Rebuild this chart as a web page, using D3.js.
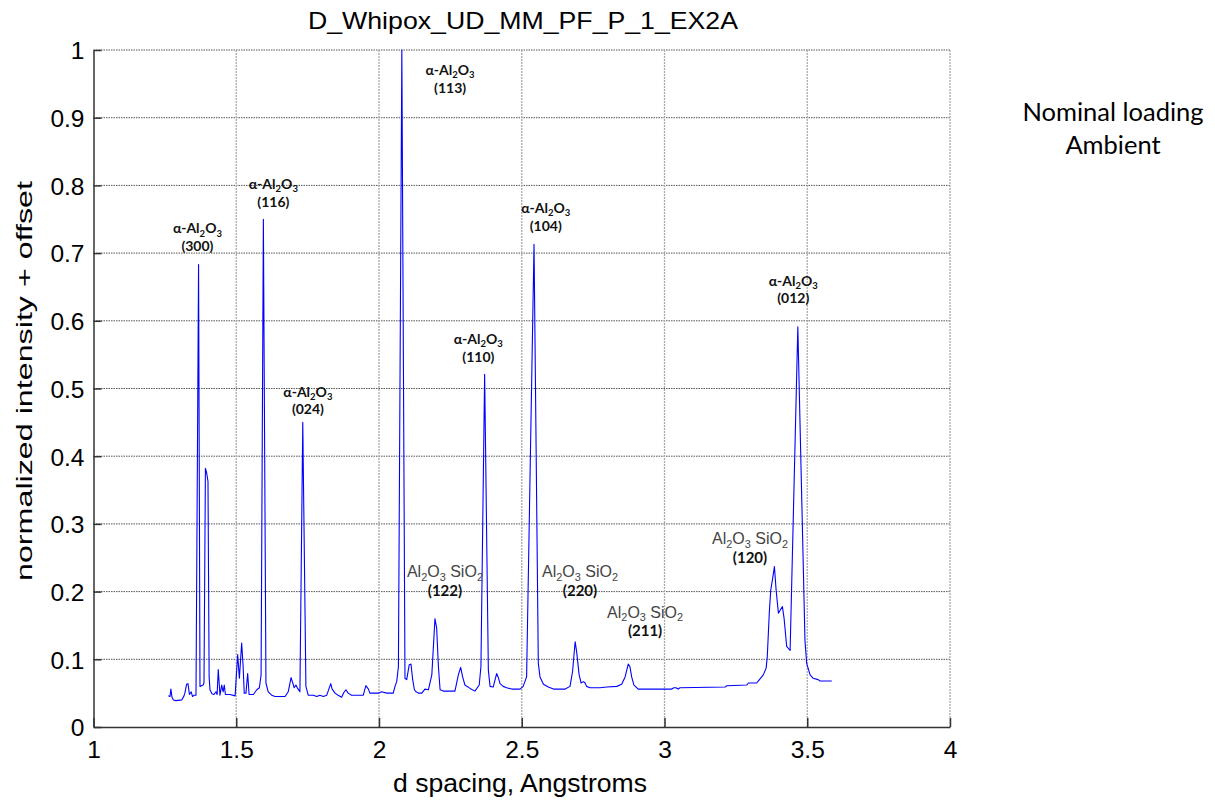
<!DOCTYPE html>
<html>
<head>
<meta charset="utf-8">
<script src="https://cdn.jsdelivr.net/npm/d3@7"></script>
<style>
  html, body { margin: 0; padding: 0; background: #fff; }
  svg { display: block; }
</style>
</head>
<body>
<svg id="chart" width="1215" height="800"></svg>
<script>
// Diffraction pattern: d spacing (Å) and normalized intensity + offset
const dSpacing = [
  1.262, 1.268, 1.271, 1.275, 1.280, 1.289, 1.309, 1.317, 1.320, 1.326, 1.331, 1.336, 1.342, 1.347, 1.352, 1.359,
  1.368, 1.373, 1.384, 1.387, 1.392, 1.396, 1.401, 1.405, 1.408, 1.415, 1.422, 1.429, 1.433, 1.437, 1.443, 1.449,
  1.454, 1.458, 1.462, 1.478, 1.496, 1.505, 1.511, 1.519, 1.524, 1.528, 1.534, 1.540, 1.545, 1.560, 1.572, 1.581,
  1.587, 1.595, 1.604, 1.612, 1.624, 1.636, 1.671, 1.682, 1.692, 1.698, 1.703, 1.709, 1.715, 1.723, 1.733, 1.744,
  1.752, 1.770, 1.782, 1.793, 1.805, 1.817, 1.831, 1.836, 1.846, 1.857, 1.869, 1.877, 1.884, 1.892, 1.904, 1.945,
  1.954, 1.963, 1.968, 1.998, 2.009, 2.027, 2.050, 2.056, 2.062, 2.068, 2.080, 2.091, 2.097, 2.106, 2.112, 2.118,
  2.124, 2.130, 2.138, 2.150, 2.161, 2.173, 2.185, 2.196, 2.202, 2.208, 2.214, 2.225, 2.255, 2.266, 2.278, 2.286,
  2.293, 2.301, 2.319, 2.336, 2.351, 2.357, 2.370, 2.383, 2.389, 2.400, 2.406, 2.412, 2.418, 2.424, 2.435, 2.447,
  2.465, 2.494, 2.505, 2.517, 2.543, 2.558, 2.564, 2.576, 2.593, 2.611, 2.652, 2.669, 2.678, 2.687, 2.692, 2.701,
  2.708, 2.716, 2.722, 2.727, 2.739, 2.774, 2.798, 2.833, 2.850, 2.862, 2.873, 2.879, 2.885, 2.893, 2.908, 3.025,
  3.033, 3.040, 3.048, 3.054, 3.212, 3.218, 3.288, 3.294, 3.323, 3.329, 3.346, 3.356, 3.360, 3.367, 3.372, 3.379,
  3.385, 3.391, 3.399, 3.407, 3.413, 3.419, 3.428, 3.440, 3.467, 3.492, 3.498, 3.510, 3.521, 3.538, 3.545, 3.586
];
const intensity = [
  0.046, 0.045, 0.056, 0.044, 0.040, 0.039, 0.040, 0.046, 0.050, 0.063, 0.064, 0.048, 0.052, 0.045, 0.047, 0.047,
  0.683, 0.060, 0.062, 0.065, 0.382, 0.376, 0.363, 0.074, 0.055, 0.049, 0.048, 0.052, 0.048, 0.085, 0.047, 0.062,
  0.052, 0.062, 0.048, 0.048, 0.046, 0.107, 0.072, 0.124, 0.090, 0.050, 0.050, 0.079, 0.048, 0.048, 0.055, 0.058,
  0.077, 0.750, 0.065, 0.052, 0.047, 0.045, 0.045, 0.052, 0.073, 0.065, 0.058, 0.062, 0.057, 0.052, 0.450, 0.060,
  0.047, 0.047, 0.045, 0.047, 0.045, 0.047, 0.064, 0.056, 0.050, 0.047, 0.044, 0.051, 0.055, 0.050, 0.047, 0.047,
  0.061, 0.056, 0.050, 0.050, 0.052, 0.050, 0.050, 0.060, 0.067, 0.089, 1.000, 0.072, 0.070, 0.092, 0.093, 0.070,
  0.055, 0.052, 0.050, 0.050, 0.056, 0.055, 0.077, 0.160, 0.146, 0.090, 0.055, 0.053, 0.053, 0.053, 0.077, 0.088,
  0.074, 0.062, 0.057, 0.053, 0.062, 0.089, 0.521, 0.084, 0.060, 0.059, 0.069, 0.079, 0.073, 0.064, 0.060, 0.058,
  0.056, 0.056, 0.060, 0.074, 0.713, 0.094, 0.074, 0.063, 0.059, 0.056, 0.056, 0.060, 0.082, 0.126, 0.112, 0.077,
  0.065, 0.067, 0.065, 0.060, 0.058, 0.058, 0.059, 0.060, 0.063, 0.074, 0.093, 0.089, 0.074, 0.062, 0.056, 0.056,
  0.058, 0.058, 0.056, 0.058, 0.059, 0.061, 0.062, 0.065, 0.065, 0.068, 0.077, 0.087, 0.104, 0.168, 0.202, 0.220,
  0.237, 0.202, 0.168, 0.174, 0.178, 0.160, 0.119, 0.113, 0.591, 0.128, 0.094, 0.077, 0.072, 0.070, 0.068, 0.068
];

// Axis ticks
const xTicks = [1, 1.5, 2, 2.5, 3, 3.5, 4];
const xTickLabels = ["1", "1.5", "2", "2.5", "3", "3.5", "4"];
const yTicks = [0, 0.1, 0.2, 0.3, 0.4, 0.5, 0.6, 0.7, 0.8, 0.9, 1];
const yTickLabels = ["0", "0.1", "0.2", "0.3", "0.4", "0.5", "0.6", "0.7", "0.8", "0.9", "1"];

// α-Al2O3 reflections: Miller indices and label anchor (d, intensity)
const alphaHkl = ["(300)", "(116)", "(024)", "(113)", "(110)", "(104)", "(012)"];
const alphaLabelD = [1.364, 1.630, 1.751, 2.249, 2.348, 2.584, 3.451];
const alphaLabelI = [0.7105, 0.776, 0.469, 0.944, 0.547, 0.7405, 0.633];

// Al2O3 / SiO2 reflections
const mixHkl = ["(122)", "(220)", "(211)", "(120)"];
const mixLabelD = [2.231, 2.704, 2.932, 3.2995];
const mixLabelI = [0.2013, 0.2013, 0.1418, 0.2501];

const titleText = "D_Whipox_UD_MM_PF_P_1_EX2A";
const xLabel = "d spacing, Angstroms";
const yLabel = "normalized intensity + offset";
const noteLines = ["Nominal loading", "Ambient"];

const svg = d3.select("#chart");
const plotLeft = 93.5, plotRight = 950, plotTop = 50, plotBottom = 727;

const x = d3.scaleLinear().domain([1, 4]).range([plotLeft, plotRight]);
const y = d3.scaleLinear().domain([0, 1]).range([plotBottom, plotTop]);

const sans = "'Liberation Sans', Arial, Helvetica, sans-serif";
const calib = "Lato, 'Open Sans', sans-serif";

// Grid
const grid = svg.append("g");
grid.selectAll("line.h").data(yTicks.slice(1)).join("line")
  .attr("x1", x(1)).attr("x2", x(4))
  .attr("y1", d => y(d)).attr("y2", d => y(d))
  .attr("stroke", "#555").attr("stroke-width", 1).attr("stroke-dasharray", "1.5,1");
grid.selectAll("line.v").data(xTicks.slice(1)).join("line")
  .attr("y1", y(0)).attr("y2", y(1))
  .attr("x1", d => x(d)).attr("x2", d => x(d))
  .attr("stroke", "#aaa").attr("stroke-width", 1.3).attr("stroke-dasharray", "2,1");

// Axes with inward ticks
const xAxis = d3.axisBottom(x).tickValues(xTicks).tickFormat((d, i) => xTickLabels[i])
  .tickSizeInner(-9).tickSizeOuter(0).tickPadding(14);
const yAxis = d3.axisLeft(y).tickValues(yTicks).tickFormat((d, i) => yTickLabels[i])
  .tickSizeInner(-8).tickSizeOuter(0).tickPadding(9);

const gx = svg.append("g").attr("transform", `translate(0,${y(0)})`).call(xAxis);
const gy = svg.append("g").attr("transform", `translate(${x(1)},0)`).call(yAxis);
[gx, gy].forEach(g => {
  g.attr("font-family", sans).attr("font-size", 24.5);
  g.select(".domain").attr("stroke", "#333").attr("stroke-width", 1.5);
  g.selectAll(".tick line").attr("stroke", "#333").attr("stroke-width", 1.5);
  g.selectAll(".tick text").attr("fill", "#000").attr("font-size", 24.5);
});
gx.selectAll(".tick text").attr("dy", "0.71em");
gy.selectAll(".tick text").attr("dy", "0.36em");

// Spectrum
const pts = dSpacing.map((d, i) => [d, intensity[i]]);
svg.append("path")
  .datum(pts)
  .attr("fill", "none")
  .attr("stroke", "#0000ff")
  .attr("stroke-width", 1.1)
  .attr("stroke-linejoin", "round")
  .attr("d", d3.line().x(d => x(d[0])).y(d => y(d[1])));

// Formula helper: text runs with subscripts; the run after a subscript returns to the baseline
function formula(sel, parts, size) {
  const shift = size * 0.22;
  let lowered = false;
  parts.forEach(p => {
    if (typeof p === "string") {
      const t = sel.append("tspan").attr("font-size", size).text(p);
      if (lowered) t.attr("dy", -shift);
      lowered = false;
    } else {
      sel.append("tspan").attr("font-size", size * 0.68).attr("dy", lowered ? 0 : shift).text(p.sub);
      lowered = true;
    }
  });
}

// α-Al2O3 labels
const alphaG = svg.append("g").attr("font-family", calib).attr("font-weight", "bold").attr("fill", "#111");
alphaHkl.forEach((h, i) => {
  const cx = x(alphaLabelD[i]), cy = y(alphaLabelI[i]);
  const t = alphaG.append("text").attr("x", cx).attr("y", cy - 17.5 + 5).attr("text-anchor", "middle").attr("font-size", 14);
  formula(t, ["\u03B1-Al", { sub: "2" }, "O", { sub: "3" }], 14);
  alphaG.append("text").attr("x", cx).attr("y", cy + 5).attr("text-anchor", "middle").attr("font-size", 14).text(h);
});

// Al2O3 SiO2 labels
const mixG = svg.append("g");
mixHkl.forEach((h, i) => {
  const cx = x(mixLabelD[i]), cy = y(mixLabelI[i]);
  const t = mixG.append("text").attr("x", cx).attr("y", cy - 19 + 5.5)
    .attr("text-anchor", "middle").attr("font-family", sans).attr("font-size", 16).attr("fill", "#444");
  formula(t, ["Al", { sub: "2" }, "O", { sub: "3" }, " SiO", { sub: "2" }], 16);
  mixG.append("text").attr("x", cx).attr("y", cy + 5).attr("text-anchor", "middle")
    .attr("font-family", calib).attr("font-weight", "bold").attr("font-size", 15).attr("fill", "#111").text(h);
});

// Title and axis labels
svg.append("text").attr("x", 523).attr("y", 29).attr("text-anchor", "middle")
  .attr("font-family", sans).attr("font-size", 24).attr("fill", "#000")
  .attr("textLength", 430).attr("lengthAdjust", "spacingAndGlyphs").text(titleText);
svg.append("text").attr("x", 520).attr("y", 792).attr("text-anchor", "middle")
  .attr("font-family", sans).attr("font-size", 25).attr("fill", "#000")
  .attr("textLength", 254).attr("lengthAdjust", "spacingAndGlyphs").text(xLabel);
svg.append("text").attr("transform", `translate(32,381) rotate(-90)`).attr("text-anchor", "middle")
  .attr("font-family", sans).attr("font-size", 22.5).attr("fill", "#000")
  .attr("textLength", 400).attr("lengthAdjust", "spacingAndGlyphs").text(yLabel);

// Side note
noteLines.forEach((s, i) => {
  svg.append("text").attr("x", 1113).attr("y", 121 + i * 33).attr("text-anchor", "middle")
    .attr("font-family", calib).attr("font-size", 25.5).attr("fill", "#000").text(s);
});
</script>
</body>
</html>
